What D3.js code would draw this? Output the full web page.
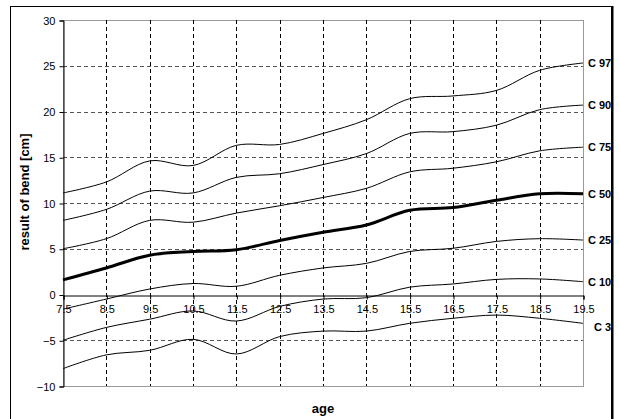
<!DOCTYPE html>
<html>
<head>
<meta charset="utf-8">
<script src="https://cdn.jsdelivr.net/npm/d3@7"></script>
<style>
  body { margin: 0; background: #fff; }
  svg { display: block; font-family: "Liberation Sans", Arial, sans-serif; }
</style>
</head>
<body>
<div id="graph"></div>
<script>
// ages on the x axis
var ages = [7.5, 8.5, 9.5, 10.5, 11.5, 12.5, 13.5, 14.5, 15.5, 16.5, 17.5, 18.5, 19.5];

// centile curves, result of bend [cm]
var c97 = [11.1, 12.3, 14.6, 14.1, 16.3, 16.4, 17.6, 19.1, 21.4, 21.7, 22.3, 24.5, 25.3];
var c90 = [8.1, 9.3, 11.3, 11.1, 12.8, 13.2, 14.2, 15.4, 17.6, 17.8, 18.5, 20.2, 20.7];
var c75 = [5.0, 6.1, 8.1, 7.9, 8.9, 9.7, 10.6, 11.6, 13.4, 13.8, 14.5, 15.7, 16.1];
var c50 = [1.6, 2.9, 4.3, 4.7, 4.9, 5.9, 6.8, 7.6, 9.2, 9.5, 10.3, 11.0, 11.0];
var c25 = [-1.6, -0.5, 0.6, 1.2, 0.9, 2.1, 2.9, 3.4, 4.7, 5.05, 5.8, 6.1, 5.95];
var c10 = [-5.0, -3.6, -2.7, -1.8, -2.9, -1.3, -0.5, -0.35, 0.8, 1.15, 1.65, 1.7, 1.4];
var c3  = [-8.1, -6.6, -6.1, -4.9, -6.5, -4.6, -4.0, -4.0, -3.15, -2.6, -2.25, -2.6, -3.15];

var seriesNames = ['C 97', 'C 90', 'C 75', 'C 50', 'C 25', 'C 10', 'C 3'];
var seriesValues = [c97, c90, c75, c50, c25, c10, c3];

var yTicks = [-10, -5, 0, 5, 10, 15, 20, 25, 30];

var width = 620, height = 419;
var pLeft = 63, pRight = 583, pTop = 20, pBottom = 386;

var x = d3.scaleLinear().domain([7.5, 19.5]).range([pLeft, pRight]);
var y = d3.scaleLinear().domain([-10, 30]).range([pBottom, pTop]);

var svg = d3.select('#graph').append('svg')
  .attr('width', width)
  .attr('height', height);

// outer frame
svg.append('rect')
  .attr('x', 10.5).attr('y', 6.5)
  .attr('width', 601).attr('height', 430)
  .attr('fill', 'none').attr('stroke', '#000').attr('stroke-width', 1);
svg.append('line')
  .attr('x1', 612.5).attr('x2', 612.5).attr('y1', 6).attr('y2', height)
  .attr('stroke', '#000').attr('stroke-width', 2);

// plot area border (grey)
svg.append('rect')
  .attr('x', pLeft + 0.5).attr('y', pTop + 0.5)
  .attr('width', pRight - pLeft).attr('height', pBottom - pTop)
  .attr('fill', 'none').attr('stroke', '#9a9a9a').attr('stroke-width', 1);

// horizontal dashed grid
svg.append('g').selectAll('line')
  .data(yTicks.filter(function(d) { return d !== 0 && d !== 30 && d !== -10; }))
  .enter().append('line')
  .attr('x1', pLeft).attr('x2', pRight)
  .attr('y1', function(d) { return Math.round(y(d)) + 0.5; })
  .attr('y2', function(d) { return Math.round(y(d)) + 0.5; })
  .attr('stroke', '#555').attr('stroke-width', 1)
  .attr('stroke-dasharray', '4,3');

// vertical dashed grid
svg.append('g').selectAll('line')
  .data(ages.slice(1, -1))
  .enter().append('line')
  .attr('x1', function(d) { return Math.round(x(d)) + 0.5; })
  .attr('x2', function(d) { return Math.round(x(d)) + 0.5; })
  .attr('y1', pTop).attr('y2', pBottom)
  .attr('stroke', '#000').attr('stroke-width', 1)
  .attr('stroke-dasharray', '4,3');

// y axis
var yAxis = d3.axisLeft(y).tickValues(yTicks).tickSize(4).tickPadding(4);
var gy = svg.append('g')
  .attr('transform', 'translate(' + (pLeft + 0.5) + ',0.5)')
  .call(yAxis);
gy.selectAll('text').attr('font-size', 11).attr('fill', '#000')
  .attr('font-family', '"Liberation Sans", Arial, sans-serif');
gy.select('.domain').attr('stroke', '#000');

// x axis at zero
var xAxis = d3.axisBottom(x).tickValues(ages).tickSize(4).tickPadding(6)
  .tickFormat(d3.format('.1f'));
var gx = svg.append('g')
  .attr('transform', 'translate(0.5,' + (Math.round(y(0)) + 0.5) + ')')
  .call(xAxis);
gx.selectAll('text').attr('font-size', 11).attr('fill', '#000')
  .attr('font-family', '"Liberation Sans", Arial, sans-serif');
gx.select('.domain').attr('stroke', '#000');

// centile curves
var line = d3.line()
  .x(function(d, i) { return x(ages[i]); })
  .y(function(d) { return y(d); })
  .curve(d3.curveCatmullRom.alpha(0.5));

svg.append('g').selectAll('path')
  .data(seriesValues)
  .enter().append('path')
  .attr('d', line)
  .attr('fill', 'none')
  .attr('stroke', '#000')
  .attr('stroke-width', function(d, i) { return seriesNames[i] === 'C 50' ? 3 : 1; });

// curve labels at right end
svg.append('g').selectAll('text')
  .data(seriesNames)
  .enter().append('text')
  .attr('x', function(d) { return pRight + (d === 'C 3' ? 11 : 5); })
  .attr('y', function(d, i) {
    var last = seriesValues[i][seriesValues[i].length - 1];
    return y(last) + (d === 'C 3' ? 4 : 0);
  })
  .attr('dy', '0.35em')
  .attr('font-size', 11)
  .attr('font-weight', 'bold')
  .text(function(d) { return d; });

// axis titles
svg.append('text')
  .attr('x', (pLeft + pRight) / 2)
  .attr('y', 413)
  .attr('text-anchor', 'middle')
  .attr('font-size', 13)
  .attr('font-weight', 'bold')
  .text('age');

svg.append('text')
  .attr('transform', 'translate(29,192) rotate(-90)')
  .attr('text-anchor', 'middle')
  .attr('font-size', 13)
  .attr('font-weight', 'bold')
  .text('result of bend [cm]');
</script>
</body>
</html>
